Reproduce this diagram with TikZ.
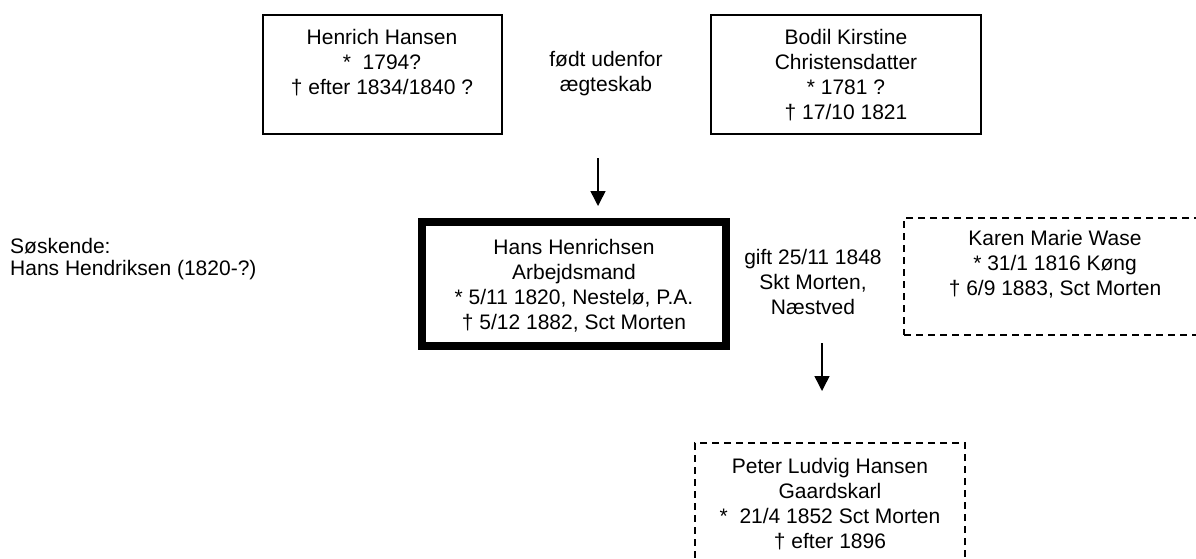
\documentclass[tikz,border=0pt]{standalone}
\usepackage{fontspec}
\setmainfont{Liberation Sans}
\usetikzlibrary{arrows.meta}
\begin{document}
\begin{tikzpicture}[x=1pt,y=-1pt,
  txt/.style={font=\fontsize{21}{25}\selectfont, align=center, inner sep=0pt},
  thinbox/.style={draw, line width=2pt, inner sep=0pt},
  thickbox/.style={draw, line width=8pt, inner sep=0pt},
  dashbox/.style={draw, line width=2pt, inner sep=0pt, dash pattern=on 7pt off 5pt},
  arr/.style={line width=1.5pt, -{Triangle[width=15pt,length=15pt]}}]
\useasboundingbox[fill=white] (0,0) rectangle (1196,558);
% boxes
\node[thinbox, minimum width=239pt, minimum height=119pt] (henrichbox) at (382.5,74.5) {};
\node[thinbox, minimum width=270pt, minimum height=119pt] (bodilbox) at (846,74.5) {};
\node[thickbox, minimum width=304pt, minimum height=124pt] (hansbox) at (574,284) {};
\node[dashbox, minimum width=306pt, minimum height=117pt] (karenbox) at (1057,276.5) {};
\node[dashbox, minimum width=270pt, minimum height=132pt] (peterbox) at (830,509) {};
% texts
\node[txt] (henrichtxt) at (382,63) {Henrich Hansen\\*\ \ 1794?\\† efter 1834/1840 ?};
\node[txt] (fodt) at (606,74) {født udenfor\\ægteskab};
\node[txt] (bodiltxt) at (846,75.5) {Bodil Kirstine\\Christensdatter\\* 1781 ?\\† 17/10 1821};
\node[txt] (hanstxt) at (574,286) {Hans Henrichsen\\Arbejdsmand\\* 5/11 1820, Nestelø, P.A.\\† 5/12 1882, Sct Morten};
\node[txt] (gifttxt) at (813,282) {gift 25/11 1848\\Skt Morten,\\Næstved};
\node[txt] (karentxt) at (1055,264) {Karen Marie Wase\\* 31/1 1816 Køng\\† 6/9 1883, Sct Morten};
\node[txt] (petertxt) at (830,504) {Peter Ludvig Hansen\\Gaardskarl\\*\ \ 21/4 1852 Sct Morten\\† efter 1896};
\node[txt, align=left, anchor=west, font=\fontsize{21}{22}\selectfont] (soskende) at (10,259) {Søskende:\\Hans Hendriksen (1820-?)};
% arrows
\coordinate (a1s) at (598,158);
\coordinate (a1e) at (598,206);
\coordinate (a2s) at (822,343);
\coordinate (a2e) at (822,391);
\draw[arr] (a1s) -- (a1e);
\draw[arr] (a2s) -- (a2e);
\end{tikzpicture}
\end{document}
